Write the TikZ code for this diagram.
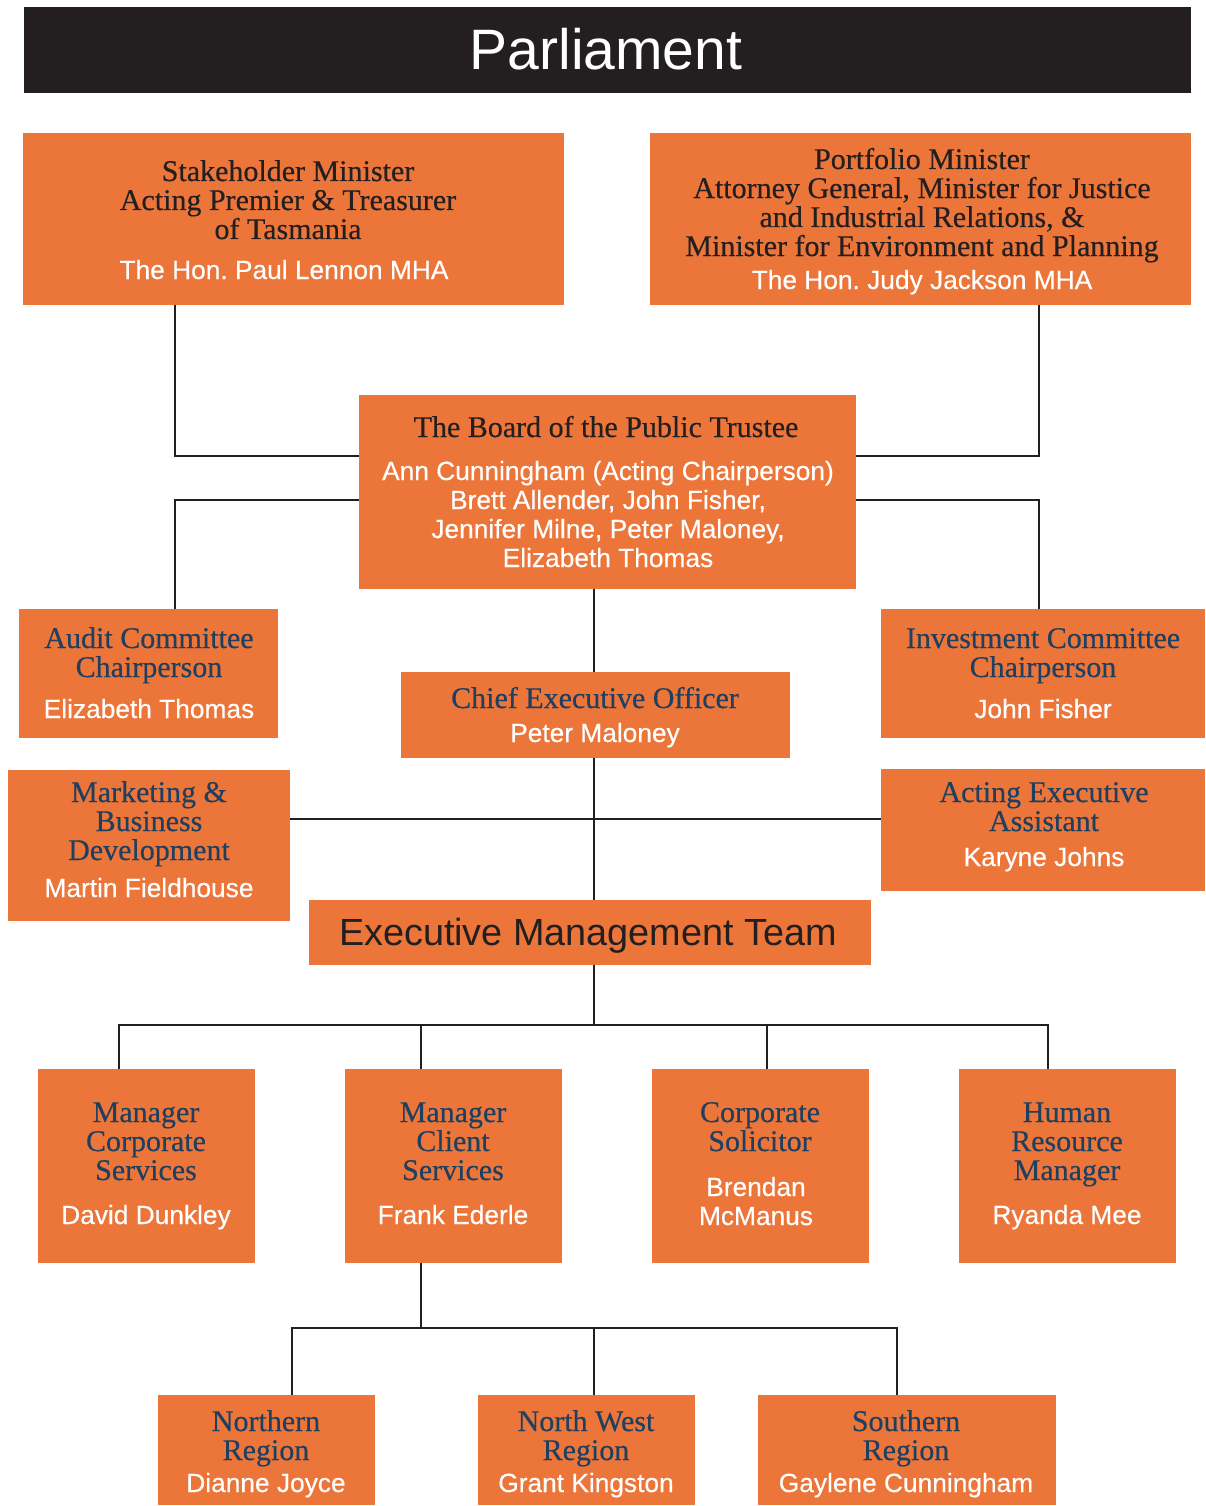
\documentclass[tikz,border=0pt]{standalone}
\usepackage{fontspec}
\setmainfont{Liberation Serif}[FakeBold=0.4]
\newfontfamily\sansf{Liberation Sans}
\newfontfamily\sansnm{Liberation Sans}[FakeBold=0.35]
\usetikzlibrary{fit}
\frenchspacing
\definecolor{orgorange}{HTML}{EC763A}
\definecolor{orgdark}{HTML}{231F20}
\definecolor{orgblue}{HTML}{1E3F60}
\tikzset{
  box/.style={fill=orgorange, draw=none, inner sep=0pt},
  ttl/.style={font=\fontsize{30}{29}\selectfont, align=center, anchor=base, inner sep=0pt, text=orgblue},
  ttldark/.style={ttl, text=orgdark},
  nm/.style={font=\sansnm\fontsize{26.3}{29}\selectfont\frenchspacing, text=white, align=center, anchor=base, inner sep=0pt},
  conn/.style={draw=orgdark, line width=2pt}
}
\begin{document}
\begin{tikzpicture}[x=1pt,y=-1pt]
\useasboundingbox (0,0) rectangle (1205,1506);
% coordinates for connector routing
\coordinate (j1) at (175,456);
\coordinate (j2) at (1039,456);
\coordinate (j3) at (175,500);
\coordinate (j4) at (1039,500);
\coordinate (j7) at (594,1025);
\coordinate (j8) at (421,1328);

% connectors (behind boxes)
\draw[conn] (175,305) |- (j1) -- (359,456);
\draw[conn] (1039,305) |- (j2) -- (856,456);
\draw[conn] (359,500) -- (j3) -- (175,609);
\draw[conn] (856,500) -- (j4) -- (1039,609);
\draw[conn] (594,589) -- (594,672);
\draw[conn] (594,758) -- (594,900);
\draw[conn] (290,819) -- (881,819);
\draw[conn] (594,965) -- (j7);
\draw[conn] (119,1069) |- (1048,1025) -- (1048,1069);
\draw[conn] (421,1025) -- (421,1069);
\draw[conn] (767,1025) -- (767,1069);
\draw[conn] (421,1263) -- (j8);
\draw[conn] (292,1395) |- (897,1328) -- (897,1395);
\draw[conn] (594,1328) -- (594,1395);

% Parliament bar
\node[box, fill=orgdark, fit={(24,7) (1191,93)}] (parl) {};
\node[font=\sansf\fontsize{57}{60}\selectfont, text=white, inner sep=0pt] (parlt) at (606,49) {Parliament};

% Ministers
\node[box, fit={(23,133) (564,305)}] (sh) {};
\node[ttldark] (sht) at (288,239) {Stakeholder Minister\\Acting Premier \& Treasurer\\of Tasmania};
\node[nm] (shn) at (284,279) {The Hon. Paul Lennon MHA};

\node[box, fit={(650,133) (1191,305)}] (pm) {};
\node[ttldark] (pmt) at (922,256) {Portfolio Minister\\Attorney General, Minister for Justice\\and Industrial Relations, \&\\Minister for Environment and Planning};
\node[nm] (pmn) at (922,289) {The Hon. Judy Jackson MHA};

% Board
\node[box, fit={(359,395) (856,589)}] (board) {};
\node[ttldark] (boardt) at (606,437) {The Board of the Public Trustee};
\node[nm] (boardn) at (608,567) {Ann Cunningham (Acting Chairperson)\\Brett Allender, John Fisher,\\Jennifer Milne, Peter Maloney,\\Elizabeth Thomas};

% Committees
\node[box, fit={(19,609) (278,738)}] (audit) {};
\node[ttl] (auditt) at (149,677) {Audit Committee\\Chairperson};
\node[nm] (auditn) at (149,718) {Elizabeth Thomas};

\node[box, fit={(881,609) (1205,738)}] (inv) {};
\node[ttl] (invt) at (1043,677) {Investment Committee\\Chairperson};
\node[nm] (invn) at (1043,718) {John Fisher};

% CEO
\node[box, fit={(401,672) (790,758)}] (ceo) {};
\node[ttl] (ceot) at (595,708) {Chief Executive Officer};
\node[nm] (ceon) at (595,742) {Peter Maloney};

% Marketing and assistant
\node[box, fit={(8,770) (290,921)}] (mkt) {};
\node[ttl] (mktt) at (149,860) {Marketing \&\\Business\\Development};
\node[nm] (mktn) at (149,897) {Martin Fieldhouse};

\node[box, fit={(881,769) (1205,891)}] (aea) {};
\node[ttl] (aeat) at (1044,831) {Acting Executive\\Assistant};
\node[nm] (aean) at (1044,866) {Karyne Johns};

% EMT
\node[box, fit={(309,900) (871,965)}] (emt) {};
\node[font=\sansf\fontsize{37.8}{40}\selectfont, text=orgdark, inner sep=0pt, anchor=base] (emtt) at (588,945) {Executive Management Team};

% Managers
\node[box, fit={(38,1069) (255,1263)}] (mcs) {};
\node[ttl] (mcst) at (146,1180) {Manager\\Corporate\\Services};
\node[nm] (mcsn) at (146,1224) {David Dunkley};

\node[box, fit={(345,1069) (562,1263)}] (mcl) {};
\node[ttl] (mclt) at (453,1180) {Manager\\Client\\Services};
\node[nm] (mcln) at (453,1224) {Frank Ederle};

\node[box, fit={(652,1069) (869,1263)}] (cs) {};
\node[ttl] (cst) at (760,1151) {Corporate\\Solicitor};
\node[nm] (csn) at (756,1225) {Brendan\\McManus};

\node[box, fit={(959,1069) (1176,1263)}] (hr) {};
\node[ttl] (hrt) at (1067,1180) {Human\\Resource\\Manager};
\node[nm] (hrn) at (1067,1224) {Ryanda Mee};

% Regions
\node[box, fit={(158,1395) (375,1505)}] (nr) {};
\node[ttl] (nrt) at (266,1460) {Northern\\Region};
\node[nm] (nrn) at (266,1492) {Dianne Joyce};

\node[box, fit={(478,1395) (695,1505)}] (nw) {};
\node[ttl] (nwt) at (586,1460) {North West\\Region};
\node[nm] (nwn) at (586,1492) {Grant Kingston};

\node[box, fit={(758,1395) (1056,1505)}] (sr) {};
\node[ttl] (srt) at (906,1460) {Southern\\Region};
\node[nm] (srn) at (906,1492) {Gaylene Cunningham};
\end{tikzpicture}
\end{document}
